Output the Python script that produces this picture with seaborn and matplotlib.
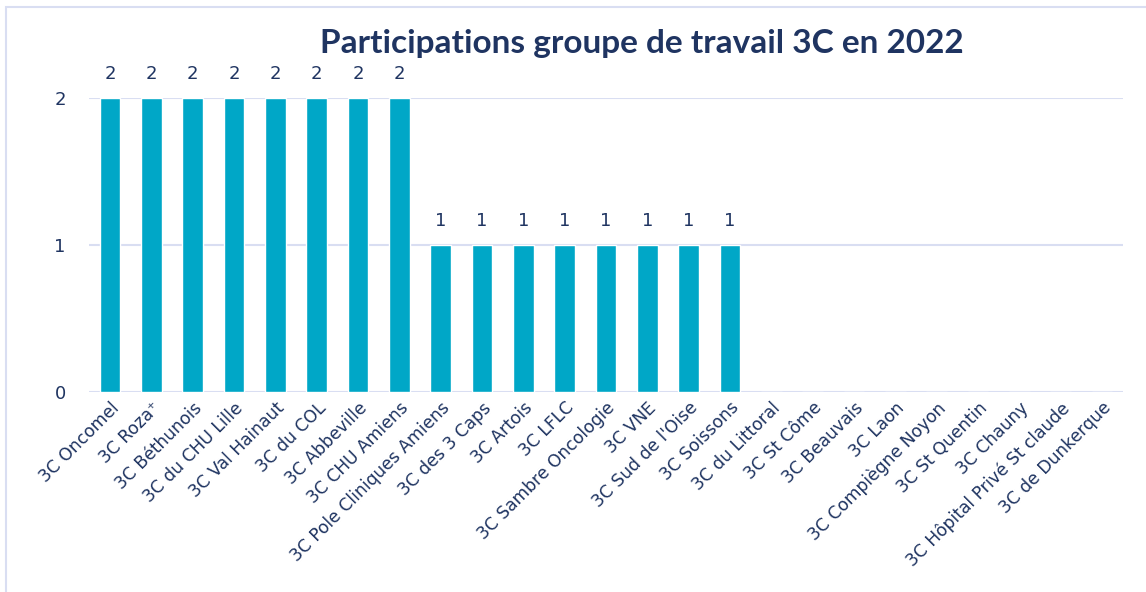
import matplotlib
matplotlib.use("Agg")
import matplotlib.pyplot as plt
import seaborn as sns
import pandas as pd
from matplotlib.patches import Rectangle

categories = ["3C Oncomel", "3C Roza\u207a", "3C Béthunois", "3C du CHU Lille", "3C Val Hainaut",
              "3C du COL", "3C Abbeville", "3C CHU Amiens", "3C Pole Cliniques Amiens",
              "3C des 3 Caps", "3C Artois", "3C LFLC", "3C Sambre Oncologie", "3C VNE",
              "3C Sud de l'Oise", "3C Soissons", "3C du Littoral", "3C St Côme", "3C Beauvais",
              "3C Laon", "3C Compiègne Noyon", "3C St Quentin", "3C Chauny",
              "3C Hôpital Privé St claude", "3C de Dunkerque"]
values = [2, 2, 2, 2, 2, 2, 2, 2, 1, 1, 1, 1, 1, 1, 1, 1, 0, 0, 0, 0, 0, 0, 0, 0, 0]
y_ticks = [0, 1, 2]
title = "Participations groupe de travail 3C en 2022"

navy = "#1F3461"
bar_color = "#00A7C7"
grid_color = "#D9DEF2"

sns.set_theme(style="white")
plt.rcParams["font.family"] = ["DejaVu Sans"]

df = pd.DataFrame({"cat": categories, "val": values})

fig = plt.figure(figsize=(11.46, 5.92), dpi=100)
ax = fig.add_axes([0.078, 0.338, 0.9015, 0.4967])

for y in y_ticks:
    ax.axhline(y, color=grid_color, lw=1.5, zorder=0)

sns.barplot(data=df, x="cat", y="val", color=bar_color, width=0.5, saturation=1,
            ax=ax, zorder=3)

for i, v in enumerate(values):
    if v > 0:
        ax.text(i, v + 0.1, str(v), ha="center", va="bottom", fontsize=13,
                color=navy, clip_on=False)

ax.set_ylim(0, 2)
ax.set_xlim(-0.5, len(categories) - 0.5)
ax.set_yticks(y_ticks)
ax.set_yticklabels([str(t) for t in y_ticks], fontsize=13, color=navy)
ax.tick_params(axis="y", length=0, pad=17)
ax.tick_params(axis="x", length=0, pad=5)
ax.set_xticks(range(len(categories)))
ax.set_xticklabels(categories, rotation=45, ha="right", rotation_mode="anchor",
                   fontsize=12.3, color=navy)
ax.set_xlabel("")
ax.set_ylabel("")
for s in ax.spines.values():
    s.set_visible(False)

fig.text(0.56, 0.927, title, ha="center", va="center", fontsize=24,
         fontweight="bold", color=navy, family=["Lato", "DejaVu Sans"])

fig.patches.append(Rectangle((6 / 1146, -0.01), 1.02, 1 - 7 / 592 + 0.01,
                             transform=fig.transFigure, fill=False,
                             edgecolor=grid_color, lw=1.5))

fig.savefig("out.png", dpi=100)
